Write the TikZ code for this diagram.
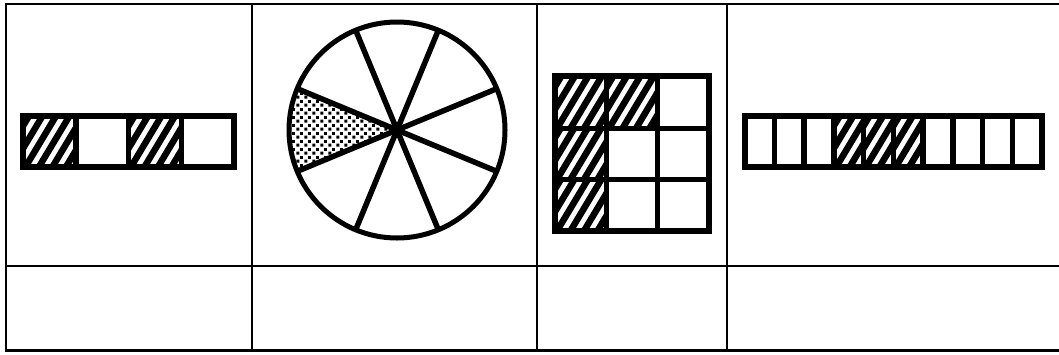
\documentclass[tikz,border=0pt]{standalone}
\usetikzlibrary{patterns}
\pgfdeclarepatternformonly{mydots}{\pgfqpoint{0pt}{0pt}}{\pgfqpoint{8pt}{8pt}}{\pgfqpoint{8pt}{8pt}}{%
  \pgfpathrectangle{\pgfqpoint{0.5pt}{0.5pt}}{\pgfqpoint{3.2pt}{3.2pt}}%
  \pgfpathrectangle{\pgfqpoint{4.5pt}{4.5pt}}{\pgfqpoint{3.2pt}{3.2pt}}%
  \pgfusepath{fill}}
\newcommand\hatchcell[4]{%
  \begin{scope}
    \clip (#1,#2) rectangle (#3,#4);
    \foreach \k in {-5,...,6}
      \draw[hatchline] ({#1+\k*13.5},{#4+4}) -- ++(36,-60);
  \end{scope}}
\tikzset{
  tableline/.style={line width=2pt},
  figline/.style={line width=5.5pt},
  hatchline/.style={line width=6.5pt},
}
\begin{document}
\begin{tikzpicture}[x=1pt,y=-1pt]
\useasboundingbox (0,0) rectangle (1059,354);
% table
\draw[tableline] (5,3.8) -- (1059,3.8);
\draw[tableline] (6,3) -- (6,351);
\foreach \c in {252,537,727} \draw[tableline] (\c,3) -- (\c,351);
\draw[tableline] (5,265.5) -- (1059,265.5);
\draw[line width=3pt] (5,350.5) -- (1059,350.5);
% cell 1: 4-part bar
\hatchcell{23}{116}{75.75}{167}
\hatchcell{128.5}{116}{181.25}{167}
\foreach \x in {75.75,128.5,181.25} \draw[figline] (\x,116) -- (\x,167);
\draw[line width=6pt] (23,116) rectangle (234,167);
% cell 2: circle with 8 sectors
\begin{scope}[shift={(397,130)}]
  \fill[pattern=mydots] (0,0) -- (157.5:108 and -108) arc[start angle=157.5,end angle=202.5,x radius=108,y radius=-108] -- cycle;
  \foreach \a in {22.5,67.5,112.5,157.5}
    \draw[figline] (\a:108 and -108) -- (\a+180:108 and -108);
  \draw[line width=5pt] (0,0) circle[radius=108];
\end{scope}
% cell 3: 3x3 grid
\hatchcell{554.5}{76}{606.5}{128.5}
\hatchcell{606.5}{76}{657.5}{128.5}
\hatchcell{554.5}{128.5}{606.5}{179.5}
\hatchcell{554.5}{179.5}{606.5}{231}
\foreach \x in {606.5,657.5} \draw[figline] (\x,76) -- (\x,231);
\foreach \y in {128.5,179.5} \draw[figline] (554.5,\y) -- (709,\y);
\draw[line width=6pt] (554.5,76) rectangle (709,231);
% cell 4: 10-part bar
\foreach \i in {3,4,5}
  \hatchcell{744.5+\i*29.75}{116}{744.5+\i*29.75+29.75}{167}
\foreach \i in {1,...,9} \draw[figline] ({744.5+\i*29.75},116) -- ({744.5+\i*29.75},167);
\draw[line width=6pt] (744.5,116) rectangle (1042,167);
\end{tikzpicture}
\end{document}
